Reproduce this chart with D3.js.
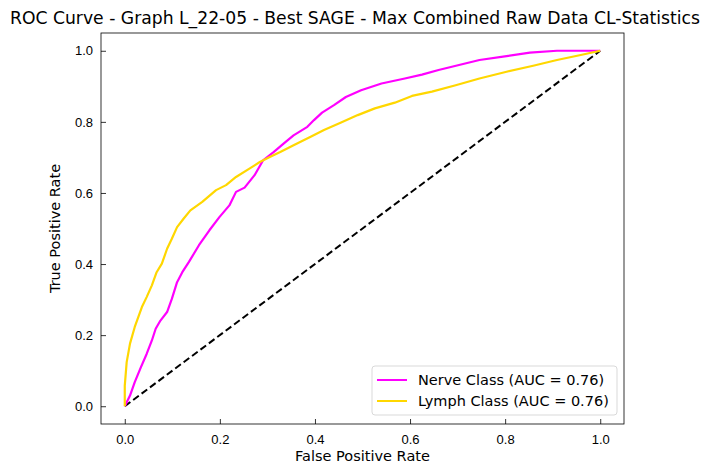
<!DOCTYPE html>
<html>
<head>
<meta charset="utf-8">
<script src="https://cdn.jsdelivr.net/npm/d3@7"></script>
<style>
  body { margin: 0; background: #fff; }
  svg { font-family: "DejaVu Sans", sans-serif; }
</style>
</head>
<body>
<svg id="chart" width="712" height="469"></svg>
<script>
// values
const nerveFpr = [0, 0.011, 0.021, 0.034, 0.046, 0.057, 0.065, 0.075, 0.089, 0.099, 0.110, 0.121, 0.135, 0.156, 0.178, 0.199, 0.220, 0.234, 0.252, 0.273, 0.291, 0.313, 0.334, 0.355, 0.384, 0.398, 0.415, 0.440, 0.465, 0.497, 0.540, 0.589, 0.625, 0.660, 0.703, 0.746, 0.803, 0.852, 0.909, 1];
const nerveTpr = [0, 0.030, 0.068, 0.110, 0.147, 0.185, 0.218, 0.241, 0.265, 0.302, 0.349, 0.377, 0.406, 0.453, 0.495, 0.532, 0.565, 0.603, 0.615, 0.650, 0.692, 0.715, 0.739, 0.762, 0.786, 0.805, 0.826, 0.847, 0.870, 0.889, 0.908, 0.922, 0.933, 0.946, 0.960, 0.974, 0.985, 0.995, 1.0, 1];
const lymphFpr = [0, 0, 0.004, 0.011, 0.021, 0.036, 0.046, 0.057, 0.067, 0.078, 0.089, 0.099, 0.110, 0.124, 0.138, 0.163, 0.192, 0.213, 0.234, 0.263, 0.284, 0.305, 0.327, 0.355, 0.391, 0.419, 0.455, 0.490, 0.526, 0.568, 0.604, 0.646, 0.696, 0.746, 0.803, 0.859, 0.909, 0.959, 1];
const lymphTpr = [0, 0.058, 0.124, 0.176, 0.223, 0.279, 0.307, 0.340, 0.377, 0.401, 0.443, 0.471, 0.504, 0.528, 0.551, 0.575, 0.608, 0.622, 0.645, 0.669, 0.687, 0.701, 0.715, 0.734, 0.758, 0.777, 0.798, 0.819, 0.838, 0.854, 0.873, 0.885, 0.903, 0.922, 0.941, 0.958, 0.974, 0.988, 1];
const tickValues = [0, 0.2, 0.4, 0.6, 0.8, 1.0];
const series = [
  {label: "Nerve Class (AUC = 0.76)", color: "#ff00ff", fpr: nerveFpr, tpr: nerveTpr},
  {label: "Lymph Class (AUC = 0.76)", color: "#ffd700", fpr: lymphFpr, tpr: lymphTpr}
];

const margin = {top: 33, right: 88, bottom: 45, left: 101};
const svg = d3.select("#chart");
const width = 712 - margin.left - margin.right;
const height = 469 - margin.top - margin.bottom;
const g = svg.append("g").attr("transform", `translate(${margin.left},${margin.top})`);

const x = d3.scaleLinear().domain([-0.05, 1.05]).range([0, width]);
const y = d3.scaleLinear().domain([-0.05, 1.05]).range([height, 0]);

const line = d3.line().x(d => x(d[0])).y(d => y(d[1]));

// diagonal chance line
g.append("path")
    .datum([[0, 0], [1, 1]])
    .attr("d", line)
    .attr("fill", "none")
    .attr("stroke", "#000")
    .attr("stroke-width", 2)
    .attr("stroke-dasharray", "7,3.5");

series.forEach(s => {
    g.append("path")
        .datum(d3.zip(s.fpr, s.tpr))
        .attr("d", line)
        .attr("fill", "none")
        .attr("stroke", s.color)
        .attr("stroke-width", 2.2)
        .attr("stroke-linejoin", "round");
});

// axes, ticks pointing inwards
const xAxis = g.append("g").attr("transform", `translate(0,${height})`)
    .call(d3.axisBottom(x).tickValues(tickValues).tickFormat(d3.format(".1f")).tickSizeInner(-5).tickSizeOuter(0).tickPadding(8));
const yAxis = g.append("g")
    .call(d3.axisLeft(y).tickValues(tickValues).tickFormat(d3.format(".1f")).tickSizeInner(-5).tickSizeOuter(0).tickPadding(8));
[xAxis, yAxis].forEach(a => {
    a.select(".domain").remove();
    a.selectAll(".tick line").attr("stroke", "#000").attr("stroke-width", 0.8);
    a.selectAll(".tick text").attr("font-size", 13).attr("fill", "#000");
});
xAxis.selectAll(".tick text").attr("dy", "0.9em");

g.append("rect")
    .attr("width", width).attr("height", height)
    .attr("fill", "none").attr("stroke", "#000").attr("stroke-width", 0.8);

// titles
svg.append("text")
    .attr("x", 355).attr("y", 24)
    .attr("text-anchor", "middle")
    .attr("font-size", 17)
    .attr("textLength", 690)
    .attr("lengthAdjust", "spacingAndGlyphs")
    .text("ROC Curve - Graph L_22-05 - Best SAGE - Max Combined Raw Data CL-Statistics");
svg.append("text")
    .attr("x", margin.left + x(0.5)).attr("y", 461)
    .attr("text-anchor", "middle").attr("font-size", 14.5)
    .text("False Positive Rate");
svg.append("text")
    .attr("transform", `translate(60,${margin.top + y(0.5)}) rotate(-90)`)
    .attr("text-anchor", "middle").attr("font-size", 14.5)
    .text("True Positive Rate");

// legend
const legend = g.append("g").attr("transform", `translate(${width - 252},${height - 58})`);
legend.append("rect")
    .attr("width", 245).attr("height", 49).attr("rx", 3)
    .attr("fill", "#fff").attr("fill-opacity", 0.8)
    .attr("stroke", "#d9d9d9");
series.forEach((s, i) => {
    const row = legend.append("g").attr("transform", `translate(0,${14 + i * 21})`);
    row.append("line").attr("x1", 5).attr("x2", 35)
        .attr("stroke", s.color).attr("stroke-width", 2);
    row.append("text").attr("x", 46).attr("dy", "0.35em")
        .attr("font-size", 14.5).text(s.label);
});
</script>
</body>
</html>
